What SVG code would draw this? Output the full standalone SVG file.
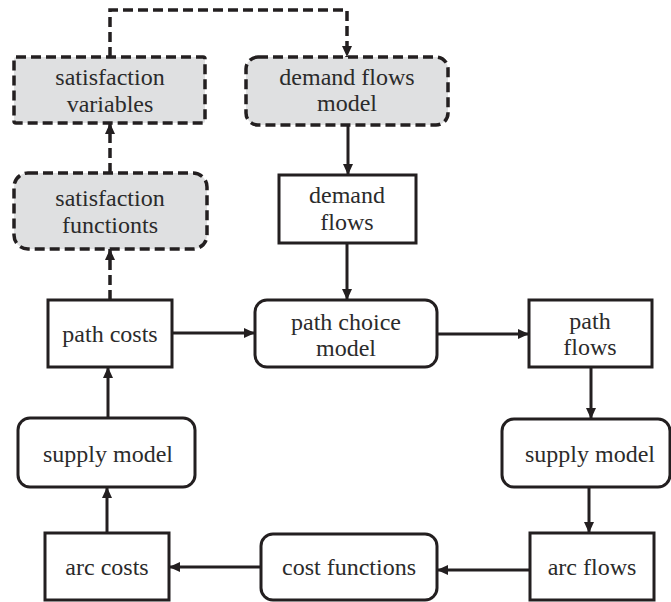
<svg xmlns="http://www.w3.org/2000/svg" width="671" height="602" viewBox="0 0 671 602">
<defs>
<style>
.box{fill:#ffffff;stroke:#231f20;stroke-width:3}
.gray{fill:#dfe0e1;stroke:#231f20;stroke-width:3.5;stroke-dasharray:10 5}
.t{font-family:"Liberation Serif","Times New Roman",serif;font-size:24px;fill:#2b2b2b;text-anchor:middle}
.c{fill:none;stroke:#231f20;stroke-width:3;marker-end:url(#ah)}
.d{stroke-width:3.5;stroke-dasharray:10 5}
</style>
<marker id="ah" markerUnits="userSpaceOnUse" markerWidth="11" markerHeight="10" refX="11" refY="5" orient="auto">
<path d="M0,0 L11,5 L0,10 z" fill="#231f20"/>
</marker>
</defs>
<rect width="671" height="602" fill="#ffffff"/>
<g id="connectors">
<path class="c d" d="M110,57 V10 H347 V57"/>
<path class="c d" d="M110,173 V123"/>
<path class="c d" d="M110,300 V249"/>
<path class="c" d="M348,125 V175"/>
<path class="c" d="M347,243 V300"/>
<path class="c" d="M172,333 H255"/>
<path class="c" d="M437,334 H529"/>
<path class="c" d="M591,367 V419"/>
<path class="c" d="M589,487 V533"/>
<path class="c" d="M530,570 H437"/>
<path class="c" d="M261,567 H169"/>
<path class="c" d="M107,533 V487"/>
<path class="c" d="M108,418 V367"/>
</g>
<g id="satisfaction-variables">
<rect class="gray" x="14" y="57" width="191" height="66" rx="2"/>
<text class="t" x="110" y="85">satisfaction</text>
<text class="t" x="110" y="112">variables</text>
</g>
<g id="demand-flows-model">
<rect class="gray" x="246" y="57" width="202" height="68" rx="12"/>
<text class="t" x="347" y="85">demand flows</text>
<text class="t" x="347" y="111">model</text>
</g>
<g id="satisfaction-functions">
<rect class="gray" x="14" y="173" width="193" height="76" rx="14"/>
<text class="t" x="110" y="206">satisfaction</text>
<text class="t" x="110" y="233">functionts</text>
</g>
<g id="demand-flows">
<rect class="box" x="279" y="175" width="137" height="68"/>
<text class="t" x="347" y="203">demand</text>
<text class="t" x="347" y="230">flows</text>
</g>
<g id="path-costs">
<rect class="box" x="48" y="300" width="124" height="67"/>
<text class="t" x="110" y="342">path costs</text>
</g>
<g id="path-choice-model">
<rect class="box" x="255" y="300" width="182" height="67" rx="12"/>
<text class="t" x="346" y="330">path choice</text>
<text class="t" x="346" y="356">model</text>
</g>
<g id="path-flows">
<rect class="box" x="529" y="300" width="123" height="67"/>
<text class="t" x="590" y="329">path</text>
<text class="t" x="590" y="355">flows</text>
</g>
<g id="supply-model-left">
<rect class="box" x="18" y="418" width="177" height="69" rx="12"/>
<text class="t" x="108" y="462">supply model</text>
</g>
<g id="supply-model-right">
<rect class="box" x="502" y="419" width="168" height="68" rx="12"/>
<text class="t" x="590" y="462">supply model</text>
</g>
<g id="arc-costs">
<rect class="box" x="45" y="533" width="124" height="67"/>
<text class="t" x="107" y="575">arc costs</text>
</g>
<g id="cost-functions">
<rect class="box" x="261" y="534" width="176" height="66" rx="12"/>
<text class="t" x="349" y="575">cost functions</text>
</g>
<g id="arc-flows">
<rect class="box" x="530" y="533" width="124" height="67"/>
<text class="t" x="592" y="575">arc flows</text>
</g>
</svg>
